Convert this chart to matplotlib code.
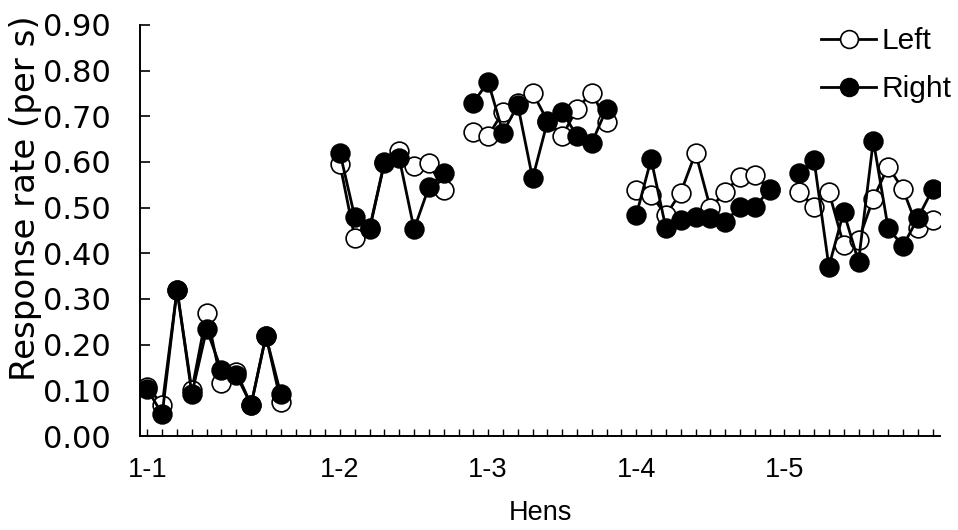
import numpy as np
import matplotlib
matplotlib.use("Agg")
import matplotlib.pyplot as plt
from matplotlib.ticker import FormatStrFormatter

plt.rcParams['font.family'] = ['Liberation Sans', 'DejaVu Sans']

nan = np.nan

# Response rates per session; NaN separates one hen's sessions from the next
left = [0.108, 0.068, 0.320, 0.100, 0.269, 0.115, 0.141, 0.068, 0.220, 0.075,
        nan, nan, nan,
        0.595, 0.433, 0.455, 0.600, 0.623, 0.591, 0.598, 0.539,
        nan,
        0.666, 0.657, 0.710, 0.730, 0.752, 0.690, 0.657, 0.717, 0.752, 0.688,
        nan,
        0.539, 0.528, 0.484, 0.533, 0.620, 0.499, 0.535, 0.568, 0.571, 0.540,
        nan,
        0.535, 0.502, 0.535, 0.418, 0.429, 0.520, 0.590, 0.540, 0.455, 0.473]

right = [0.102, 0.048, 0.320, 0.092, 0.234, 0.144, 0.134, 0.068, 0.219, 0.092,
         nan, nan, nan,
         0.620, 0.479, 0.453, 0.598, 0.608, 0.453, 0.545, 0.575,
         nan,
         0.730, 0.776, 0.664, 0.725, 0.564, 0.688, 0.710, 0.657, 0.642, 0.717,
         nan,
         0.484, 0.606, 0.455, 0.473, 0.479, 0.477, 0.469, 0.502, 0.502, 0.539,
         nan,
         0.575, 0.604, 0.371, 0.491, 0.382, 0.647, 0.455, 0.416, 0.477, 0.540]

# Category labels: hen name at its slot, blank elsewhere
hen_labels = {0: "1-1", 13: "1-2", 23: "1-3", 33: "1-4", 43: "1-5"}
categories = [hen_labels.get(i, "") for i in range(len(left))]

x = np.arange(len(left))

fig = plt.figure(figsize=(9.58, 5.30), dpi=100)
ax = fig.add_axes([140 / 958, 1 - 436 / 530, 800 / 958, 411 / 530])

ax.plot(x, left, color='black', lw=2.0, marker='o', ms=13.5,
        mfc='white', mec='black', mew=1.2, label='Left', zorder=3)
ax.plot(x, right, color='black', lw=2.0, marker='o', ms=13.5,
        mfc='black', mec='black', mew=1.2, label='Right', zorder=4)

ax.set_xlim(-0.5, len(left) - 0.5)
ax.set_ylim(0, 0.90)
ax.set_yticks(np.arange(0, 0.91, 0.10))
ax.yaxis.set_major_formatter(FormatStrFormatter('%.2f'))
ax.set_xticks(x)
ax.set_xticklabels(categories)

for side in ('top', 'right'):
    ax.spines[side].set_visible(False)
for side in ('left', 'bottom'):
    ax.spines[side].set_linewidth(1.4)

ax.tick_params(axis='y', direction='in', length=7, width=1.2,
               labelsize=22, pad=21)
for lbl in ax.get_yticklabels():
    lbl.set_family('DejaVu Sans')
ax.tick_params(axis='x', direction='in', length=5, width=1.0,
               labelsize=19.5, pad=15)

ax.set_xlabel('Hens', fontsize=19.5)
ax.xaxis.set_label_coords(0.5, -0.155)
ax.set_ylabel('Response rate (per s)', fontsize=24.5, family='DejaVu Sans')
ax.yaxis.set_label_coords(-0.1225, 0.579)

leg = ax.legend(loc='upper left', bbox_to_anchor=(821 / 958, 1 - 27 / 530),
                bbox_transform=fig.transFigure, frameon=False,
                borderaxespad=0, borderpad=0,
                fontsize=21.5, handlelength=1.85, handletextpad=0.17,
                labelspacing=0.68, markerscale=0.95)

fig.savefig('out.png', dpi=100)
